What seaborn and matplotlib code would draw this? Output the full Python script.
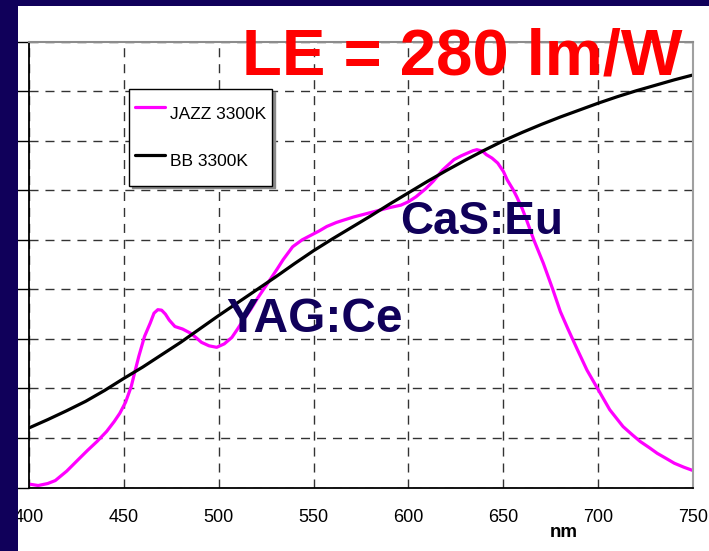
import matplotlib
matplotlib.use("Agg")
import matplotlib.pyplot as plt
import seaborn as sns
import pandas as pd
from matplotlib.patches import Rectangle
from matplotlib.lines import Line2D

# Measured emission spectrum of the JAZZ 3300K source (arbitrary units)
jazz_nm = [400, 405, 410, 414, 420, 426, 431, 436, 441, 445, 448, 451, 454, 456,
           458, 461, 464, 466, 468, 470, 472, 474, 477, 481, 485, 488, 491, 495,
           499, 503, 507, 510, 513, 517, 520, 524, 527, 531, 534, 539, 544, 548,
           553, 557, 562, 566, 571, 575, 580, 585, 590, 596, 600, 604, 609, 613,
           618, 624, 628, 631, 634, 636, 639, 641, 644, 647, 650, 652, 655, 657,
           660, 662, 666, 671, 676, 680, 684, 689, 694, 700, 706, 713, 718, 722,
           727, 731, 736, 740, 745, 750]
jazz_val = [0.07, 0.04, 0.08, 0.14, 0.33, 0.56, 0.75, 0.93, 1.13, 1.33, 1.50, 1.72,
            2.04, 2.35, 2.65, 3.05, 3.32, 3.52, 3.59, 3.58, 3.50, 3.38, 3.25, 3.20,
            3.12, 3.03, 2.93, 2.86, 2.83, 2.90, 3.03, 3.20, 3.38, 3.60, 3.79, 4.02,
            4.19, 4.42, 4.60, 4.86, 5.00, 5.08, 5.18, 5.27, 5.35, 5.40, 5.46, 5.50,
            5.55, 5.60, 5.65, 5.70, 5.77, 5.87, 6.03, 6.18, 6.41, 6.62, 6.70, 6.75,
            6.80, 6.82, 6.79, 6.72, 6.65, 6.55, 6.38, 6.21, 6.02, 5.87, 5.62, 5.42,
            5.00, 4.53, 4.00, 3.55, 3.20, 2.78, 2.37, 1.97, 1.57, 1.23, 1.06, 0.93,
            0.80, 0.69, 0.58, 0.49, 0.41, 0.34]

# Black-body reference at the same colour temperature
bb_nm = [400, 410, 420, 430, 440, 450, 460, 470, 480, 490, 500, 510, 520, 530, 540,
         550, 560, 570, 580, 590, 600, 610, 620, 630, 640, 650, 660, 670, 680, 690,
         700, 710, 720, 730, 740, 750]
bb_val = [1.20, 1.37, 1.55, 1.74, 1.96, 2.20, 2.43, 2.68, 2.93, 3.20, 3.47, 3.73,
          3.99, 4.25, 4.52, 4.78, 5.02, 5.25, 5.48, 5.72, 5.95, 6.18, 6.40, 6.61,
          6.81, 7.00, 7.17, 7.33, 7.48, 7.62, 7.76, 7.89, 8.01, 8.12, 8.23, 8.33]

x_ticks = [400, 450, 500, 550, 600, 650, 700, 750]
y_ticks = list(range(10))
series_labels = ["JAZZ 3300K", "BB 3300K"]
title_text = "LE = 280 lm/W"
phosphor_labels = ["YAG:Ce", "CaS:Eu"]
unit_label = "nm"

NAVY = "#10005a"
MAGENTA = "#ff00ff"

sns.set_style("white")
plt.rcParams["font.family"] = ["Liberation Sans", "DejaVu Sans"]
plt.rcParams["text.color"] = "black"

W, H = 709, 551
fig = plt.figure(figsize=(W / 100, H / 100), dpi=100)
fig.patch.set_facecolor("white")

x0, x1, y_top, y_bot = 28.7, 693.3, 41.7, 487.5
ax = fig.add_axes([x0 / W, 1 - y_bot / H, (x1 - x0) / W, (y_bot - y_top) / H])

jazz = pd.DataFrame({"nm": jazz_nm, "value": jazz_val})
bb = pd.DataFrame({"nm": bb_nm, "value": bb_val})

sns.lineplot(data=jazz, x="nm", y="value", ax=ax, color=MAGENTA, lw=2.3,
             estimator=None, sort=False, legend=False)
sns.lineplot(data=bb, x="nm", y="value", ax=ax, color="black", lw=2.3,
             estimator=None, sort=False, legend=False)

ax.set_xlim(x_ticks[0], x_ticks[-1])
ax.set_ylim(y_ticks[0], y_ticks[-1])
ax.set_xticks(x_ticks)
ax.set_xticklabels([str(t) for t in x_ticks])
ax.set_yticks(y_ticks)
ax.set_yticklabels([])
ax.set_xlabel("")
ax.set_ylabel("")

ax.tick_params(axis="x", direction="out", length=4.5, width=1, color="black",
               labelsize=13, pad=11, labelcolor="black")
ax.tick_params(axis="y", direction="out", length=8.5, width=1, color="black", left=True)

ax.grid(True, color="#333333", linestyle=(0, (6.5, 5)), linewidth=1.0)

for side in ["left", "bottom"]:
    ax.spines[side].set_color("black")
    ax.spines[side].set_linewidth(1.3)
ax.spines["top"].set_color("#8c8c8c")
ax.spines["top"].set_linewidth(1.5)
ax.spines["right"].set_color("#a0a0a0")
ax.spines["right"].set_linewidth(1.5)

handles = [Line2D([], [], color=MAGENTA, lw=2.3), Line2D([], [], color="black", lw=2.3)]
leg = ax.legend(handles, series_labels, loc="upper left",
                bbox_to_anchor=(129.3 / W, 1 - 89 / H), bbox_transform=fig.transFigure,
                fontsize=12.5, labelcolor="black", frameon=True, fancybox=False,
                framealpha=1, edgecolor="black", borderpad=0.35, handlelength=1.7,
                handleheight=2.88, handletextpad=0.3, labelspacing=0.63,
                borderaxespad=0,
                shadow={"color": "#8a8a8a", "alpha": 1.0, "ox": 2, "oy": -2})
leg.get_frame().set_linewidth(1.0)

def px(x, y):
    return x / W, 1 - y / H

fig.text(*px(242, 75), title_text, color="#ff0000", fontsize=47, fontweight="bold",
         ha="left", va="baseline", zorder=6)
fig.text(*px(226.5, 332), phosphor_labels[0], color=NAVY, fontsize=34.5,
         fontweight="bold", ha="left", va="baseline", zorder=6)
fig.text(*px(400, 233.5), phosphor_labels[1], color=NAVY, fontsize=33,
         fontweight="bold", ha="left", va="baseline", zorder=6)
fig.text(*px(563.5, 537), unit_label, color="black", fontsize=13.5, fontweight="bold",
         ha="center", va="baseline", zorder=6)

# Dark frame strips along the left and top edges
fig.patches.append(Rectangle((0, 0), 17.5 / W, 1, transform=fig.transFigure,
                             facecolor=NAVY, edgecolor="none", zorder=10))
fig.patches.append(Rectangle((0, 1 - 5.7 / H), 1, 5.7 / H, transform=fig.transFigure,
                             facecolor=NAVY, edgecolor="none", zorder=10))

fig.savefig("out.png", dpi=100, facecolor="white")
